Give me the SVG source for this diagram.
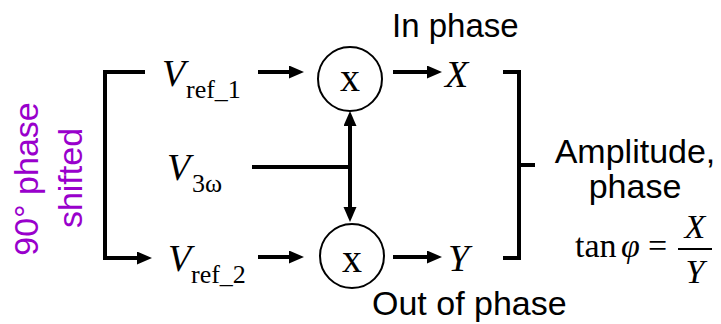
<svg xmlns="http://www.w3.org/2000/svg" width="721" height="324" viewBox="0 0 721 324">
<style>
.sans{font-family:"Liberation Sans",Arial,sans-serif;fill:#000}
.serif{font-family:"Liberation Serif","Times New Roman",serif;fill:#000}
.it{font-style:italic}
.purple{font-family:"Liberation Sans",Arial,sans-serif;fill:#9900CC;font-size:34px}
.ln{stroke:#000;stroke-width:4;fill:none}
.circ{stroke:#000;stroke-width:2;fill:#fff}
</style>
<defs>
<marker id="ah" markerUnits="userSpaceOnUse" markerWidth="16" markerHeight="14" refX="4" refY="6.5" orient="auto">
<path d="M0,0 L15,6.5 L0,13 z" fill="#000"/>
</marker>
</defs>
<rect width="721" height="324" fill="#fff"/>
<g id="connectors">
<path class="ln" d="M145,72 H105 V258 H141" marker-end="url(#ah)"/>
<line class="ln" x1="258" y1="72" x2="293" y2="72" marker-end="url(#ah)"/>
<line class="ln" x1="393" y1="72" x2="431" y2="72" marker-end="url(#ah)"/>
<line class="ln" x1="258" y1="257" x2="293" y2="257" marker-end="url(#ah)"/>
<line class="ln" x1="393" y1="257" x2="431" y2="257" marker-end="url(#ah)"/>
<line class="ln" x1="252" y1="167" x2="352" y2="167"/>
<line class="ln" x1="350" y1="167" x2="350" y2="122" marker-end="url(#ah)"/>
<line class="ln" x1="350" y1="167" x2="350" y2="211" marker-end="url(#ah)"/>
<path class="ln" d="M503,72 H519 V258 H503 M519,165 H535"/>
</g>
<g id="label-shift">
<text class="purple" text-anchor="middle" transform="translate(38,179) rotate(-90)">90° phase</text>
<text class="purple" text-anchor="middle" transform="translate(82,178) rotate(-90)">shifted</text>
</g>
<g id="vref1">
<text class="serif it" x="162" y="86" font-size="38">V</text>
<text class="serif" x="186" y="98" font-size="26">ref_1</text>
</g>
<g id="v3w">
<text class="serif it" x="167" y="180" font-size="38">V</text>
<text class="serif" x="192" y="192" font-size="26">3ω</text>
</g>
<g id="vref2">
<text class="serif it" x="168" y="271" font-size="38">V</text>
<text class="serif" x="191" y="283" font-size="26">ref_2</text>
</g>
<g id="mult1">
<circle class="circ" cx="350" cy="79" r="32"/>
<text class="serif" x="350" y="91" font-size="40" text-anchor="middle">x</text>
</g>
<g id="mult2">
<circle class="circ" cx="352" cy="256" r="32"/>
<text class="serif" x="352" y="272" font-size="40" text-anchor="middle">x</text>
</g>
<g id="outX">
<text class="serif it" x="445" y="87" font-size="38">X</text>
</g>
<g id="outY">
<text class="serif it" x="448" y="271" font-size="38">Y</text>
</g>
<g id="label-in">
<text class="sans" x="392" y="37" font-size="33">In phase</text>
</g>
<g id="label-out">
<text class="sans" x="372" y="315" font-size="34">Out of phase</text>
</g>
<g id="result">
<text class="sans" x="635" y="163" font-size="34" text-anchor="middle">Amplitude,</text>
<text class="sans" x="635" y="198" font-size="34" text-anchor="middle">phase</text>
<text class="serif" x="575" y="257" font-size="34">tan</text>
<text class="serif it" x="621" y="257" font-size="34">φ</text>
<text class="serif" x="648" y="257" font-size="34">=</text>
<line x1="678" y1="249" x2="712" y2="249" stroke="#000" stroke-width="2"/>
<text class="serif it" x="695" y="238" font-size="34" text-anchor="middle">X</text>
<text class="serif it" x="695" y="283" font-size="34" text-anchor="middle">Y</text>
</g>
</svg>
